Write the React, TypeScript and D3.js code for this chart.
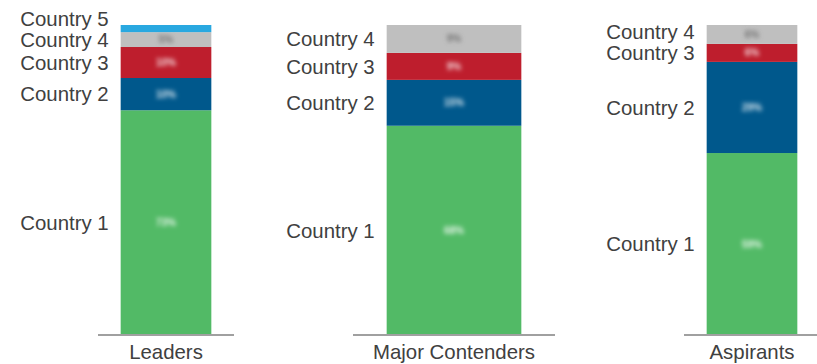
import React from "react";
import * as d3 from "d3";

const groups = ["Leaders", "Major Contenders", "Aspirants"];
const countries = ["Country 1", "Country 2", "Country 3", "Country 4", "Country 5"];
const leadersValues = [72.5, 10.4, 10.0, 4.8, 2.3];
const contendersValues = [67.5, 14.8, 8.7, 9.0, 0];
const aspirantsValues = [58.7, 29.4, 5.8, 6.1, 0];
const colors = ["#52BA66", "#00588C", "#BE1E2D", "#BFBFBF", "#29A8E0"];

const W = 817;
const H = 364;
const panels = [
  { name: groups[0], values: leadersValues, range: [98, 234] },
  { name: groups[1], values: contendersValues, range: [353, 555] },
  { name: groups[2], values: aspirantsValues, range: [684, 820] },
];

const y = d3.scaleLinear().domain([0, 100]).range([335, 25]);

export default function App() {
  return (
    <svg
      width={W}
      height={H}
      style={{ position: "absolute", left: 0, top: 0, fontFamily: "'Liberation Sans', Arial, sans-serif" }}
    >
      <defs>
        <filter id="blur" x="-50%" y="-150%" width="200%" height="400%">
          <feGaussianBlur stdDeviation="2.2" />
        </filter>
      </defs>
      {panels.map((p) => {
        const x = d3.scaleBand().domain([p.name]).range(p.range as [number, number]).paddingInner(0.2).paddingOuter(0.2);
        const x0 = x(p.name)!;
        const bw = x.bandwidth();
        const row: any = {};
        countries.forEach((c, i) => (row[c] = p.values[i]));
        const keys = countries.filter((_, i) => p.values[i] > 0);
        const stack = d3.stack<any>().keys(keys)([row]);
        const labelY: number[] = [];
        let prev = Infinity;
        stack.forEach((s, i) => {
          const c = (y(s[0][0]) + y(s[0][1])) / 2;
          const ly = Math.min(c, prev - 21);
          labelY[i] = ly;
          prev = ly;
        });
        return (
          <g key={p.name}>
            {stack.map((s, i) => {
              const idx = countries.indexOf(s.key);
              const top = y(s[0][1]);
              const bot = y(s[0][0]);
              const mid = (top + bot) / 2;
              const isGray = idx === 3;
              return (
                <g key={s.key}>
                  <rect x={x0} y={top} width={bw} height={bot - top} fill={colors[idx]} />
                  {idx < 4 && (
                    <text
                      x={x0 + bw / 2}
                      y={mid}
                      dy="0.35em"
                      textAnchor="middle"
                      fontSize={10}
                      fontWeight="bold"
                      fill={isGray ? "#6a6a6a" : "#ffffff"}
                      fillOpacity={isGray ? 0.9 : 0.85}
                      filter="url(#blur)"
                    >
                      {Math.round(p.values[idx])}%
                    </text>
                  )}
                  <text
                    x={x0 - 12}
                    y={labelY[i]}
                    dy="0.35em"
                    textAnchor="end"
                    fontSize={20.4}
                    fill="#404040"
                  >
                    {s.key}
                  </text>
                </g>
              );
            })}
            <line x1={p.range[0]} x2={p.range[1]} y1={335} y2={335} stroke="#A0A0A0" strokeWidth={2} />
            <text x={x0 + bw / 2} y={359} textAnchor="middle" fontSize={20.4} fill="#404040">
              {p.name}
            </text>
          </g>
        );
      })}
    </svg>
  );
}
